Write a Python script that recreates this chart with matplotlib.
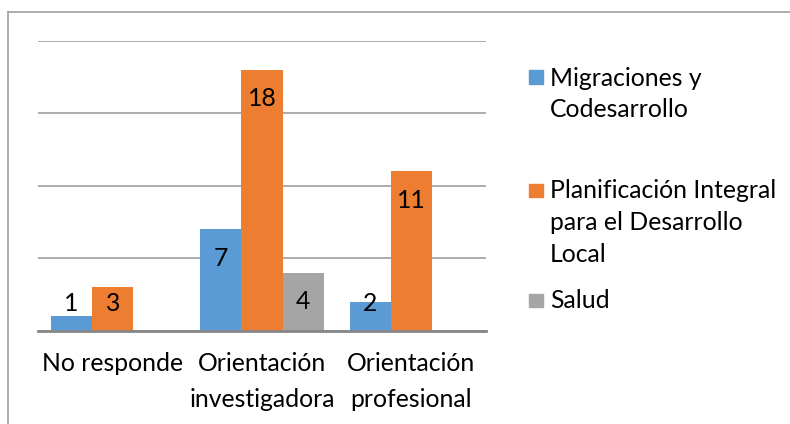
import matplotlib
matplotlib.use("Agg")
import matplotlib.pyplot as plt
from matplotlib.patches import Rectangle
from matplotlib.lines import Line2D

plt.rcParams['font.family'] = ['Lato', 'DejaVu Sans']

categories = ["No responde", "Orientación\ninvestigadora", "Orientación\nprofesional"]
series_names = ["Migraciones y\nCodesarrollo",
                "Planificación Integral\npara el Desarrollo\nLocal",
                "Salud"]
migraciones = [1, 7, 2]
planificacion = [3, 18, 11]
salud = [0, 4, 0]
series_values = [migraciones, planificacion, salud]
colors = ["#5B9BD5", "#ED7D31", "#A5A5A5"]

W, H = 790, 424
fig = plt.figure(figsize=(W / 100, H / 100), dpi=100)
ax = fig.add_axes([38 / W, (H - 330.7) / H, (486 - 38) / W, (330.7 - 41) / H])

FS = 17.8
bw = 0.275
n = len(series_values)
for i, (vals, col) in enumerate(zip(series_values, colors)):
    xs = [k + (i - (n - 1) / 2) * bw for k in range(len(categories))]
    ax.bar(xs, vals, width=bw, color=col, zorder=3)
    for x, v in zip(xs, vals):
        if v > 0:
            y = max(v - 2.0, 1.88)
            ax.text(x, y, str(v), ha='center', va='center', fontsize=FS,
                    color='black', zorder=4)

ax.set_xlim(-0.5, len(categories) - 0.5)
ax.set_ylim(0, 20)
ax.set_yticks([0, 5, 10, 15, 20])
ax.yaxis.grid(True, color='#a6a6a6', linewidth=1.3, zorder=0)
ax.set_yticklabels([])
ax.tick_params(axis='y', length=0)
ax.set_xticks(range(len(categories)))
ax.set_xticklabels(categories, fontsize=FS, linespacing=1.72)
ax.tick_params(axis='x', length=0, pad=15)
for s in ['top', 'right', 'left']:
    ax.spines[s].set_visible(False)
ax.spines['bottom'].set_color('#868686')
ax.spines['bottom'].set_linewidth(2)
ax.spines['bottom'].set_zorder(5)
ax.set_facecolor('none')

# legend (manual, Excel-like spacing)
entry_tops = [77, 190, 300]
line_gap = 31.5
for name, col, y0 in zip(series_names, colors, entry_tops):
    fig.patches.append(Rectangle((529 / W, (H - y0 - 6.5) / H), 14 / W, 13 / H,
                                 transform=fig.transFigure, color=col))
    for j, line in enumerate(name.split("\n")):
        fig.text(550 / W, (H - (y0 + 1 + j * line_gap)) / H, line, ha='left',
                 va='center', fontsize=FS, color='black')

# chart-area border (left and top visible)
fig.lines.append(Line2D([8 / W, 8 / W], [0, (H - 12) / H], transform=fig.transFigure,
                        color='#a0a0a0', linewidth=1.2))
fig.lines.append(Line2D([8 / W, 1], [(H - 12) / H, (H - 12) / H], transform=fig.transFigure,
                        color='#a0a0a0', linewidth=1.2))

fig.savefig("out.png", dpi=100, facecolor='white')
